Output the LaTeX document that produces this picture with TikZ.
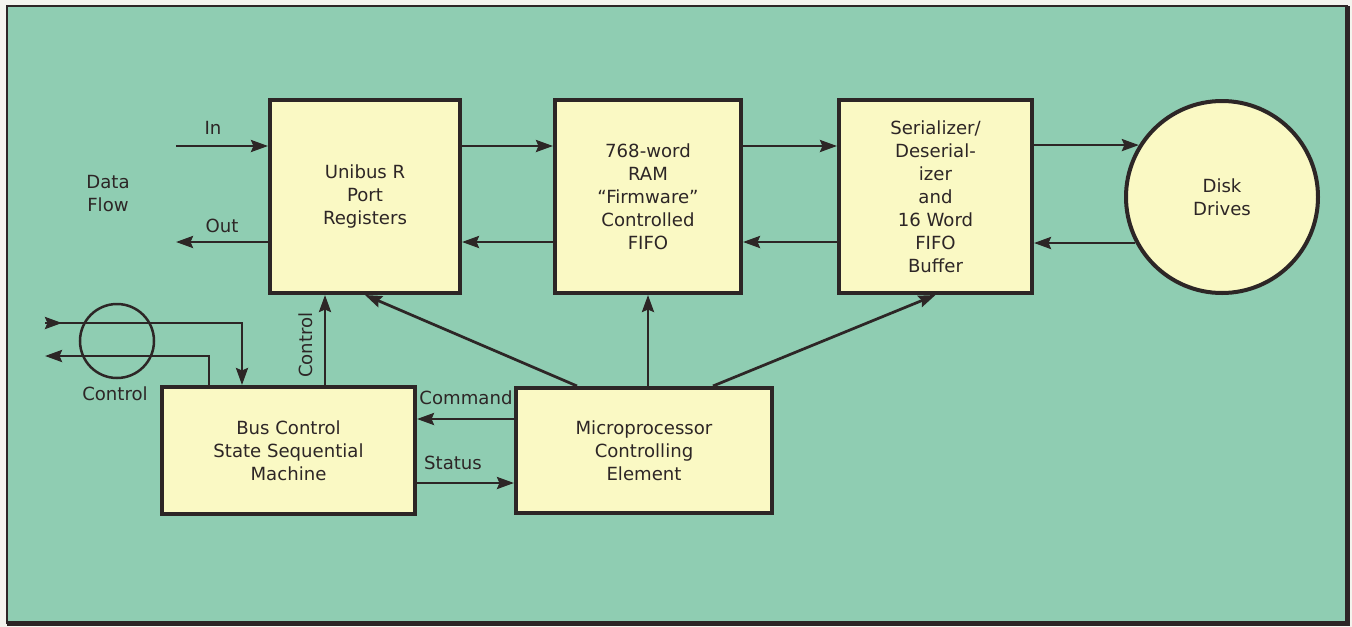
\documentclass[tikz,border=0pt]{standalone}
\usepackage{fontspec}
\setmainfont{DejaVu Sans}
\usetikzlibrary{arrows.meta,calc}

\definecolor{paperwhite}{RGB}{244,244,238}
\definecolor{panelgreen}{RGB}{143,205,178}
\definecolor{boxyellow}{RGB}{250,249,196}
\definecolor{inkdark}{RGB}{45,38,38}

\begin{document}
\begin{tikzpicture}[x=0.2mm,y=-0.2mm,
  font=\fontsize{10.3}{13.1}\selectfont, text=inkdark,
  block/.style={draw=inkdark,line width=0.8mm,fill=boxyellow,inner sep=0pt,align=center},
  flow/.style={draw=inkdark,line width=0.55mm,-{Stealth[length=3.4mm,width=2.4mm,inset=0.5mm]}}]
\useasboundingbox (0,0) rectangle (1352,627);
\fill[paperwhite] (0,0) rectangle (1352,627);
\draw[inkdark,line width=0.5mm,fill=panelgreen] (7,6) rectangle (1347,623);
\draw[inkdark,line width=1mm] (1347,6) -- (1347,623) -- (7,623);

% data path
\node[block,minimum width=38mm,minimum height=38.6mm] (unibus) at (365,196.5) {Unibus R\\Port\\Registers};
\node[block,minimum width=37.2mm,minimum height=38.6mm] (ram) at (648,196.5) {768-word\\RAM\\“Firmware”\\Controlled\\FIFO};
\node[block,minimum width=38.6mm,minimum height=38.6mm] (serdes) at (935.5,196.5) {Serializer/\\Deserial-\\izer\\and\\16 Word\\FIFO\\Buffer};
\node[block,circle,minimum size=38.4mm] (disk) at (1222,197) {Disk\\Drives};

% control path
\node[block,minimum width=50.6mm,minimum height=25.4mm] (buscontrol) at (288.5,450.5) {Bus Control\\State Sequential\\Machine};
\node[block,minimum width=51.2mm,minimum height=25mm] (micro) at (644,450.5) {Microprocessor\\Controlling\\Element};
\node[draw=inkdark,line width=0.5mm,circle,minimum size=14.8mm,inner sep=0pt] (tap) at (117,341) {};

\coordinate (datain) at (176,146);
\coordinate (dataout) at (176,242);
\coordinate (cmdlevel) at (0,419);
\coordinate (statlevel) at (0,483);
\coordinate (ctrlin) at (45,323);
\coordinate (ctrlout) at (45,356);
\coordinate (ctrlfoot) at ($(buscontrol.north)+(36.5,0)$);

\draw[flow] (datain) -- (unibus.west |- datain);
\draw[flow] (unibus.west |- dataout) -- (dataout);
\draw[flow] (unibus.east |- datain) -- (ram.west |- datain);
\draw[flow] (ram.west |- dataout) -- (unibus.east |- dataout);
\draw[flow] (ram.east |- datain) -- (serdes.west |- datain);
\draw[flow] (serdes.west |- dataout) -- (ram.east |- dataout);
\draw[flow] (serdes.east |- disk.148) -- (disk.148);
\draw[flow] (disk.208) -- (serdes.east |- disk.208);

\draw[flow] ($(micro.north)+(-67,0)$) -- (unibus.south);
\draw[flow] (ram.south |- micro.north) -- (ram.south);
\draw[flow] ($(micro.north)+(69,0)$) -- (serdes.south);
\draw[flow] (ctrlfoot) -- (ctrlfoot |- unibus.south);

\draw[flow] (micro.west |- cmdlevel) -- (buscontrol.east |- cmdlevel);
\draw[flow] (buscontrol.east |- statlevel) -- (micro.west |- statlevel);

\draw[flow] (ctrlin) -| ($(buscontrol.north)+(-46.5,0)$);
\draw[flow] (ctrlin) -- ++(17,0);
\draw[flow] ($(buscontrol.north)+(-79.5,0)$) |- (ctrlout);

% labels
\node (lblin) at (213,128) {In};
\node (lblout) at (222,226) {Out};
\node[align=center] (dataflow) at (108,194) {Data\\Flow};
\node (lbltap) at (115,394) {Control};
\node[rotate=90] (lblctrl) at (306,345) {Control};
\node (lblcmd) at (466,398) {Command};
\node (lblstat) at (453,463) {Status};
\end{tikzpicture}
\end{document}
